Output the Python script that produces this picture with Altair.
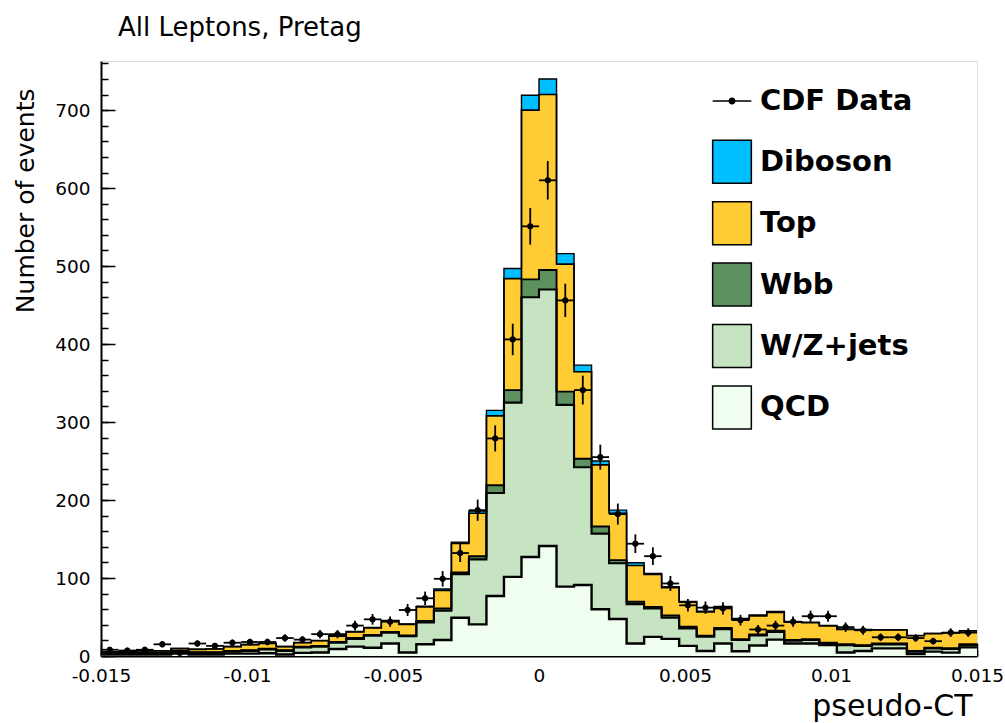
import altair as alt
import numpy as np
import pandas as pd

# ---------------- data ----------------
N_BINS = 50
X_MIN, X_MAX = -0.015, 0.015
Y_MAX = 763

components = ["Diboson", "Top", "Wbb", "W/Z+jets", "QCD"]
colors = ["#00BFFF", "#FFCC33", "#5E9160", "#C6E3C2", "#F0FFF0"]
line_widths = [1.4, 2.4, 1.8, 1.8, 1.8]

qcd = [2, 2, 2, 2, 3, 2, 2, 3, 3, 3.5,
       2, 4, 4.5, 9, 12, 10.5, 16, 4.5, 15, 20.5,
       49, 40.5, 77, 101.5, 127, 141, 89, 91, 60, 47.5,
       16, 24.5, 22, 13, 6.5, 16, 6, 13.5, 21, 16,
       16, 14, 4.5, 6.5, 9.8, 9.8, 2.6, 5.6, 4.3, 11]
wzjets = [2, 2, 1.5, 1.5, 2.5, 2, 2, 2.5, 3.5, 5,
          4.5, 7, 7.5, 8, 10, 15.5, 14, 21, 28, 37.5,
          56, 83.5, 132, 223.5, 333, 329, 233, 151, 97, 71.5,
          50.5, 36.5, 27, 22.5, 18.3, 18.5, 14.5, 13, 10, 3.5,
          4.5, 2, 9.5, 6.5, 5.2, 5.2, 3, 4.2, 4.7, 3]
wbb = [0.5, 0.5, 0.5, 0.5, 1, 1, 1, 1, 1, 1,
       1, 1, 1, 1, 1, 1, 1, 1, 2, 3,
       2, 4, 10, 16, 23, 25, 17, 11, 9, 4,
       3, 2, 3, 2, 1.2, 1.5, 1, 1, 1.5, 1,
       1, 1, 1, 1, 1, 1, 0.9, 0.7, 1, 1]
top = [1, 1, 2.5, 2.5, 3, 3.5, 4, 5.5, 7, 6.5,
       4.5, 5, 6.5, 7.5, 8, 9, 14, 14, 18, 23,
       37.5, 55, 89, 143, 217, 225, 163.5, 111.5, 79, 60,
       46.5, 41.5, 35.5, 31.5, 30.5, 26.5, 25.5, 24, 23.5, 23,
       21.2, 21.7, 19, 19.7, 17.3, 17.3, 19.5, 18.1, 19.5, 17]
diboson = [0.1, 0.1, 0.1, 0.1, 0.2, 0.2, 0.2, 0.2, 0.2, 0.3,
           0.2, 0.3, 0.3, 0.5, 0.5, 0.5, 0.5, 0.5, 1, 2,
           1.5, 3, 7, 13, 19, 20, 13.5, 8.5, 5, 4,
           3.5, 1.5, 1.5, 1, 1, 1, 1, 1, 1, 0.5,
           0.8, 0.6, 0.6, 0.5, 0.5, 0.5, 0.5, 0.4, 0.5, 0.5]
cdf_data = [8, 7, 8, 15, 4, 16, 13, 17, 18, 18,
            23, 21, 28, 28, 39, 47, 44, 59, 74, 99,
            132, 187, 279, 406, 551, 610, 456, 341, 255, 182,
            144, 128, 93, 65, 62, 61, 46, 34, 39, 44,
            51, 51, 37, 33, 24, 24, 23, 19, 30, 30]

x_major_ticks = [-0.015, -0.01, -0.005, 0, 0.005, 0.01, 0.015]
x_minor_ticks = [round(v, 4) for v in np.linspace(X_MIN, X_MAX, 31)]
y_major_ticks = [0, 100, 200, 300, 400, 500, 600, 700]
y_minor_ticks = list(range(0, 761, 20))

# ---------------- tables ----------------
edges = np.linspace(X_MIN, X_MAX, N_BINS + 1)
stack_order = [("QCD", qcd), ("W/Z+jets", wzjets), ("Wbb", wbb),
               ("Top", top), ("Diboson", diboson)]
rows = []
lower = np.zeros(N_BINS)
for name, vals in stack_order:
    upper = lower + np.array(vals, dtype=float)
    lo_ext = np.append(lower, lower[-1])
    hi_ext = np.append(upper, upper[-1])
    for i in range(N_BINS + 1):
        rows.append({"component": name, "x": float(edges[i]),
                     "lo": float(lo_ext[i]), "hi": float(hi_ext[i])})
    lower = upper
stack_df = pd.DataFrame(rows)

n = np.array(cdf_data, dtype=float)
err = np.sqrt(n)
data_df = pd.DataFrame({
    "x0": edges[:-1], "x1": edges[1:], "xc": (edges[:-1] + edges[1:]) / 2,
    "n": n, "nlo": n - err, "nhi": n + err, "lab": "CDF Data",
})

# ---------------- scales / axes ----------------
xs = alt.Scale(domain=[X_MIN, X_MAX], nice=False, zero=False)
ys = alt.Scale(domain=[0, Y_MAX], nice=False, zero=False)
FONT = "DejaVu Sans"
W, H = 876, 595

x_main = alt.Axis(orient="bottom", values=x_major_ticks, labelExpr="'' + datum.value",
                  ticks=False, tickSize=0, domain=True, domainColor="black", domainWidth=2,
                  labelFont=FONT, labelFontSize=18.5, labelColor="black", labelPadding=10.5,
                  labelFlush=False, labelOverlap=False, labelBound=False, grid=False,
                  title="pseudo-CT", titleFont=FONT, titleFontSize=30, titleFontWeight="normal",
                  titleColor="black", titleAlign="right", titleBaseline="alphabetic",
                  titleX=871, titleY=59)
x_major = alt.Axis(orient="top", offset=-H, values=x_major_ticks, labels=False, domain=False,
                   ticks=True, tickSize=13, tickColor="black", tickWidth=1.5, grid=False, title=None)
x_minor = alt.Axis(orient="top", offset=-H, values=x_minor_ticks, labels=False, domain=False,
                   ticks=True, tickSize=6, tickColor="black", tickWidth=1.5, grid=False, title=None)

y_main = alt.Axis(orient="left", values=y_major_ticks, ticks=False, tickSize=0, domain=True,
                  domainColor="black", domainWidth=2, labelFont=FONT, labelFontSize=18.5,
                  labelColor="black", labelPadding=11, grid=False,
                  title="Number of events", titleFont=FONT, titleFontSize=25,
                  titleFontWeight="normal", titleColor="black", titleAngle=270,
                  titleAlign="right", titleBaseline="alphabetic", titleX=-68, titleY=27)
y_major = alt.Axis(orient="right", offset=-W, values=y_major_ticks, labels=False, domain=False,
                   ticks=True, tickSize=14, tickColor="black", tickWidth=1.5, grid=False, title=None)
y_minor = alt.Axis(orient="right", offset=-W, values=y_minor_ticks, labels=False, domain=False,
                   ticks=True, tickSize=7, tickColor="black", tickWidth=1.5, grid=False, title=None)

# ---------------- layers ----------------
areas = alt.Chart(stack_df).mark_area(interpolate="step-after", opacity=1).encode(
    x=alt.X("x:Q", scale=xs, axis=x_main),
    y=alt.Y("hi:Q", scale=ys, axis=y_main),
    y2="lo:Q",
    fill=alt.Fill("component:N",
                  scale=alt.Scale(domain=components, range=colors),
                  legend=alt.Legend(orient="none", legendX=608.5, legendY=78.3, title=None,
                                    padding=0, symbolType="M-0.9,-1H0.9V1H-0.9Z",
                                    symbolSize=1849, symbolStrokeColor="black",
                                    symbolStrokeWidth=1.5, symbolOpacity=1,
                                    labelFont=FONT, labelFontSize=29, labelFontWeight="bold",
                                    labelColor="black", labelOffset=5.5, labelLimit=400,
                                    rowPadding=12.4)),
    detail="component:N",
)

lines = alt.Chart(stack_df).mark_line(interpolate="step-after", color="black").encode(
    x=alt.X("x:Q", scale=xs, axis=x_major),
    y=alt.Y("hi:Q", scale=ys, axis=y_major),
    detail="component:N",
    strokeWidth=alt.StrokeWidth("component:N",
                                scale=alt.Scale(domain=components, range=line_widths),
                                legend=None),
)

hbars = alt.Chart(data_df).mark_rule(color="black", strokeWidth=1.8).encode(
    x=alt.X("x0:Q", scale=xs, axis=x_minor),
    x2="x1:Q",
    y=alt.Y("n:Q", scale=ys, axis=y_minor),
)

vbars = alt.Chart(data_df).mark_rule(color="black", strokeWidth=1.8).encode(
    x=alt.X("xc:Q", scale=xs, axis=None),
    y=alt.Y("nlo:Q", scale=ys, axis=None),
    y2="nhi:Q",
)

points = alt.Chart(data_df).mark_circle(size=30, opacity=1, stroke="black", strokeWidth=1).encode(
    x=alt.X("xc:Q", scale=xs, axis=None),
    y=alt.Y("n:Q", scale=ys, axis=None),
    color=alt.Color("lab:N", scale=alt.Scale(domain=["CDF Data"], range=["black"]),
                    legend=alt.Legend(orient="none", legendX=608.5, legendY=17.5, title=None,
                                      padding=0,
                                      symbolType="M-0.9,0H0.9M-0.13,0A0.13,0.13,0,1,1,0.13,0A0.13,0.13,0,1,1,-0.13,0Z",
                                      symbolSize=1849, symbolStrokeColor="black",
                                      symbolFillColor="black", symbolStrokeWidth=1.5,
                                      symbolOpacity=1, labelFont=FONT, labelFontSize=29,
                                      labelFontWeight="bold", labelColor="black",
                                      labelOffset=5.5, labelLimit=400)),
)

chart = alt.layer(areas, lines, hbars, vbars, points).resolve_axis(
    x="independent", y="independent"
).resolve_scale(color="independent", fill="independent").properties(
    width=W, height=H,
    autosize=alt.AutoSizeParams(type="none"),
    padding={"left": 101, "top": 61, "right": 28, "bottom": 67},
    title=alt.TitleParams("All Leptons, Pretag", anchor="start", frame="group", dx=17,
                          dy=25, offset=24, baseline="alphabetic", font=FONT, fontSize=26,
                          fontWeight="normal", color="black"),
).configure_view(
    stroke="#111111", strokeWidth=2
).configure(
    background="white", font=FONT
)

chart.save("out.html", embed_options={"renderer": "svg", "actions": False})
